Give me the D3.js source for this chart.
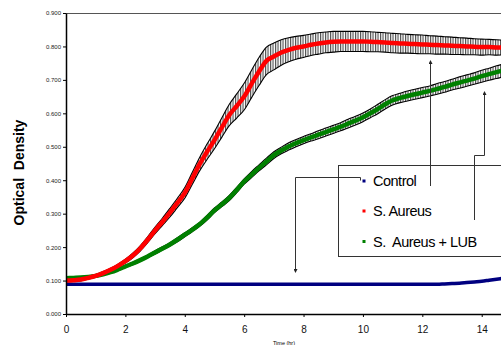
<!DOCTYPE html>
<html><head><meta charset="utf-8">
<script src="https://cdn.jsdelivr.net/npm/d3@7"></script>
<style>html,body{margin:0;padding:0;background:#fff;}svg{display:block;font-family:"Liberation Sans",Arial,sans-serif;}</style>
</head><body><svg id="c" width="501" height="345"></svg>
<script>
// time points every 0.25 h
const times = [0,0.25,0.5,0.75,1,1.25,1.5,1.75,2,2.25,2.5,2.75,3,3.25,3.5,3.75,4,4.25,4.5,4.75,5,5.25,5.5,5.75,6,6.25,6.5,6.75,7,7.25,7.5,7.75,8,8.25,8.5,8.75,9,9.25,9.5,9.75,10,10.25,10.5,10.75,11,11.25,11.5,11.75,12,12.25,12.5,12.75,13,13.25,13.5,13.75,14,14.25,14.5,14.75];
const control = [0.089,0.089,0.089,0.089,0.089,0.089,0.089,0.089,0.089,0.089,0.089,0.089,0.089,0.089,0.089,0.089,0.089,0.089,0.089,0.089,0.089,0.089,0.089,0.089,0.089,0.089,0.089,0.089,0.089,0.089,0.089,0.089,0.089,0.089,0.089,0.089,0.089,0.089,0.089,0.089,0.089,0.089,0.089,0.089,0.089,0.089,0.089,0.089,0.089,0.089,0.089,0.090,0.091,0.092,0.094,0.096,0.098,0.101,0.104,0.107];
const aureus = [0.100,0.101,0.103,0.108,0.114,0.122,0.132,0.144,0.158,0.175,0.196,0.222,0.250,0.276,0.303,0.332,0.362,0.405,0.448,0.485,0.520,0.558,0.595,0.622,0.650,0.688,0.725,0.757,0.770,0.782,0.790,0.796,0.800,0.805,0.809,0.812,0.814,0.815,0.815,0.815,0.815,0.814,0.813,0.812,0.810,0.809,0.808,0.807,0.806,0.805,0.804,0.803,0.802,0.801,0.800,0.799,0.798,0.798,0.797,0.797];
const aureusErr = [0.004,0.004,0.004,0.004,0.004,0.005,0.005,0.005,0.006,0.007,0.008,0.009,0.010,0.011,0.013,0.014,0.016,0.018,0.020,0.023,0.026,0.029,0.032,0.036,0.040,0.041,0.042,0.041,0.040,0.038,0.036,0.034,0.033,0.032,0.032,0.031,0.031,0.030,0.030,0.030,0.030,0.030,0.029,0.029,0.029,0.029,0.028,0.028,0.028,0.027,0.027,0.026,0.026,0.025,0.025,0.024,0.024,0.023,0.023,0.022];
const lub = [0.107,0.108,0.109,0.111,0.114,0.119,0.125,0.133,0.142,0.151,0.161,0.172,0.184,0.196,0.208,0.222,0.237,0.252,0.268,0.288,0.310,0.328,0.347,0.371,0.396,0.417,0.437,0.456,0.475,0.489,0.501,0.511,0.520,0.528,0.536,0.544,0.552,0.560,0.569,0.578,0.588,0.600,0.613,0.627,0.639,0.646,0.652,0.657,0.662,0.667,0.673,0.679,0.686,0.692,0.698,0.704,0.711,0.717,0.723,0.729];
const lubErr = [0.003,0.003,0.003,0.003,0.003,0.003,0.003,0.003,0.003,0.004,0.004,0.004,0.005,0.005,0.005,0.006,0.006,0.006,0.006,0.007,0.007,0.007,0.008,0.008,0.008,0.009,0.009,0.010,0.010,0.010,0.011,0.011,0.011,0.011,0.012,0.012,0.012,0.012,0.013,0.013,0.013,0.013,0.014,0.014,0.014,0.014,0.015,0.015,0.015,0.015,0.016,0.016,0.016,0.017,0.017,0.017,0.018,0.018,0.019,0.019];
const xTicks = [0,2,4,6,8,10,12,14];
const yTicks = [0,0.1,0.2,0.3,0.4,0.5,0.6,0.7,0.8,0.9];
const legendLabels = ["Control","S. Aureus","S.\u00a0 Aureus + LUB"];
const seriesColors = ["#000080","#ff0000","#008000"];

const svg = d3.select("#c");
const x = d3.scaleLinear().domain([0,15]).range([66,511.4]);
const y = d3.scaleLinear().domain([0,0.9]).range([314,13]);

const defs = svg.append("defs");
defs.append("clipPath").attr("id","plot").append("rect")
  .attr("x",66).attr("y",10).attr("width",440).attr("height",304);
const pat = defs.append("pattern").attr("id","bars").attr("patternUnits","userSpaceOnUse")
  .attr("width",2.5).attr("height",10);
pat.append("rect").attr("width",2.5).attr("height",10).attr("fill","#fff");
pat.append("line").attr("x1",0.6).attr("x2",0.6).attr("y1",0).attr("y2",10)
  .attr("stroke","#333").attr("stroke-width",1);

// frame top
svg.append("line").attr("x1",66).attr("x2",501).attr("y1",13.5).attr("y2",13.5)
  .attr("stroke","#555").attr("stroke-width",1);

const g = svg.append("g").attr("clip-path","url(#plot)");
const idx = d3.range(times.length);
const curve = d3.curveMonotoneX;

function band(vals, errs){
  const area = d3.area().curve(curve).x(i=>x(times[i])).y0(i=>y(vals[i]-errs[i])).y1(i=>y(vals[i]+errs[i]));
  g.append("path").attr("d",area(idx)).attr("fill","url(#bars)").attr("stroke","none");
  const lo = d3.line().curve(curve).x(i=>x(times[i])).y(i=>y(vals[i]-errs[i]));
  const hi = d3.line().curve(curve).x(i=>x(times[i])).y(i=>y(vals[i]+errs[i]));
  g.append("path").attr("d",lo(idx)).attr("fill","none").attr("stroke","#000").attr("stroke-width",1.1);
  g.append("path").attr("d",hi(idx)).attr("fill","none").attr("stroke","#000").attr("stroke-width",1.1);
}
band(aureus, aureusErr);
band(lub, lubErr);

function line(vals, color, w){
  const l = d3.line().curve(curve).x(i=>x(times[i])).y(i=>y(vals[i]));
  g.append("path").attr("d",l(idx)).attr("fill","none").attr("stroke",color).attr("stroke-width",w);
}
line(control, seriesColors[0], 3.5);
line(lub, seriesColors[2], 4.5);
line(aureus, seriesColors[1], 4.5);

// axes
const xAxis = svg.append("g").attr("transform","translate(0,314)")
  .call(d3.axisBottom(x).tickValues(xTicks).tickFormat(d3.format("d")).tickSize(3).tickSizeOuter(0).tickPadding(9));
xAxis.select(".domain").attr("stroke","#000").attr("stroke-width",1.5).attr("d","M66,0.5H501");
xAxis.selectAll("text").attr("font-size",10).attr("fill","#111").attr("font-family","Liberation Sans, Arial, sans-serif");
const yAxis = svg.append("g").attr("transform","translate(66,0)")
  .call(d3.axisLeft(y).tickValues(yTicks).tickFormat(d3.format(".3f")).tickSize(3).tickSizeOuter(0).tickPadding(2));
yAxis.select(".domain").attr("stroke","#000").attr("stroke-width",1.5);
yAxis.selectAll("text").attr("font-size",6).attr("fill","#222").attr("font-family","Liberation Sans, Arial, sans-serif");

svg.append("text").attr("transform","translate(24,172.5) rotate(-90)").attr("text-anchor","middle")
  .attr("font-size",14).attr("font-weight","bold").text("Optical\u00a0 Density");
svg.append("text").attr("x",284).attr("y",344.5).attr("text-anchor","middle").attr("font-size",5.5).text("Time (hr)");

// legend
svg.append("rect").attr("x",338.5).attr("y",165.5).attr("width",200).attr("height",91)
  .attr("fill","#fff").attr("stroke","#333").attr("stroke-width",1);
const ly = [181, 211, 241.5];
legendLabels.forEach((t,i)=>{
  svg.append("rect").attr("x",362.5).attr("y",ly[i]-1.5).attr("width",3).attr("height",3).attr("fill",seriesColors[i]);
  svg.append("text").attr("x",373).attr("y",ly[i]+5).attr("font-size",14.5).attr("letter-spacing",-0.5).attr("fill","#000").text(t);
});

// leader lines with arrows
defs.append("marker").attr("id","arr").attr("viewBox","0 0 6 6").attr("refX",3).attr("refY",3)
  .attr("markerWidth",4).attr("markerHeight",4).attr("orient","auto")
  .append("path").attr("d","M0,0L6,3L0,6Z").attr("fill","#222");
const leaders = [
  "M360.5,180.5V177.5H295.5V271",
  "M430.5,186V62",
  "M474.5,220V155.5H484.5V93"
];
leaders.forEach(d=>svg.append("path").attr("d",d).attr("fill","none").attr("stroke","#333").attr("stroke-width",1).attr("marker-end","url(#arr)"));
</script></body></html>
